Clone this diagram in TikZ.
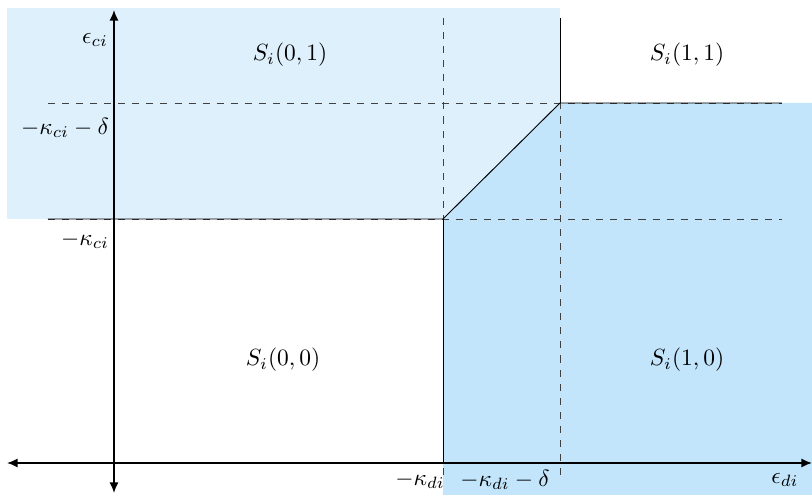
\documentclass[tikz,border=0pt]{standalone}
\usepackage{amsmath}
\usepackage{xcolor}
\usetikzlibrary{arrows.meta,calc}

\definecolor{paleblue}{HTML}{DFF0FD}
\definecolor{softblue}{HTML}{C2E5FC}

\begin{document}
\begin{tikzpicture}[x=0.015cm, y=0.015cm,
    guide/.style={dashed, black!75, thin},
    border/.style={black, thin},
    axis/.style={{Latex[length=1.6mm,width=1.4mm]}-{Latex[length=1.6mm,width=1.4mm]}, thick}]

\useasboundingbox (-114,-32) rectangle (698,463);

% Regions
\fill[paleblue] (-107,244) rectangle (446,455);
\fill[softblue] (329,-32) -- (329,244) -- (446,360) -- (698,360) -- (698,-32) -- cycle;

% Key points
\coordinate (kc0) at (-66,244);
\coordinate (kc1) at (668,244);
\coordinate (dc0) at (-66,360);
\coordinate (dc1) at (668,360);
\coordinate (kd0) at (329,-12);
\coordinate (kd1) at (329,445);
\coordinate (dd0) at (446,-12);
\coordinate (dd1) at (446,445);
\coordinate (low) at (329,244);
\coordinate (high) at (446,360);
\coordinate (kdaxis) at (329,0);

% Guide lines
\draw[guide] (kc0) -- (kc1);
\draw[guide] (dc0) -- (dc1);
\draw[guide] (kd0) -- (kd1);
\draw[guide] (dd0) -- (dd1);

% Region borders
\draw[border] (kc0) -- (low) -- (high) -- (dc1);
\draw[border] (low) -- (kdaxis);
\draw[border] (high) -- (dd1);

% Axes
\coordinate (xl) at (-107,0);
\coordinate (xr) at (698,0);
\coordinate (yb) at (0,-30);
\coordinate (yt) at (0,453);
\draw[axis] (xl) -- (xr);
\draw[axis] (yb) -- (yt);

% Axis labels
\node (eci) at (-19,423) {$\epsilon_{ci}$};
\node (kcd) at (-49,335) {$-\kappa_{ci}-\delta$};
\node (kci) at (-29,223) {$-\kappa_{ci}$};
\node (kdi) at (306,-17) {$-\kappa_{di}$};
\node (kdd) at (391,-17) {$-\kappa_{di}-\delta$};
\node (edi) at (671,-17) {$\epsilon_{di}$};

% Regions
\node (s01) at (176,408) {$S_i(0,1)$};
\node (s11) at (573,408) {$S_i(1,1)$};
\node (s00) at (169,103) {$S_i(0,0)$};
\node (s10) at (573,103) {$S_i(1,0)$};

\end{tikzpicture}
\end{document}
